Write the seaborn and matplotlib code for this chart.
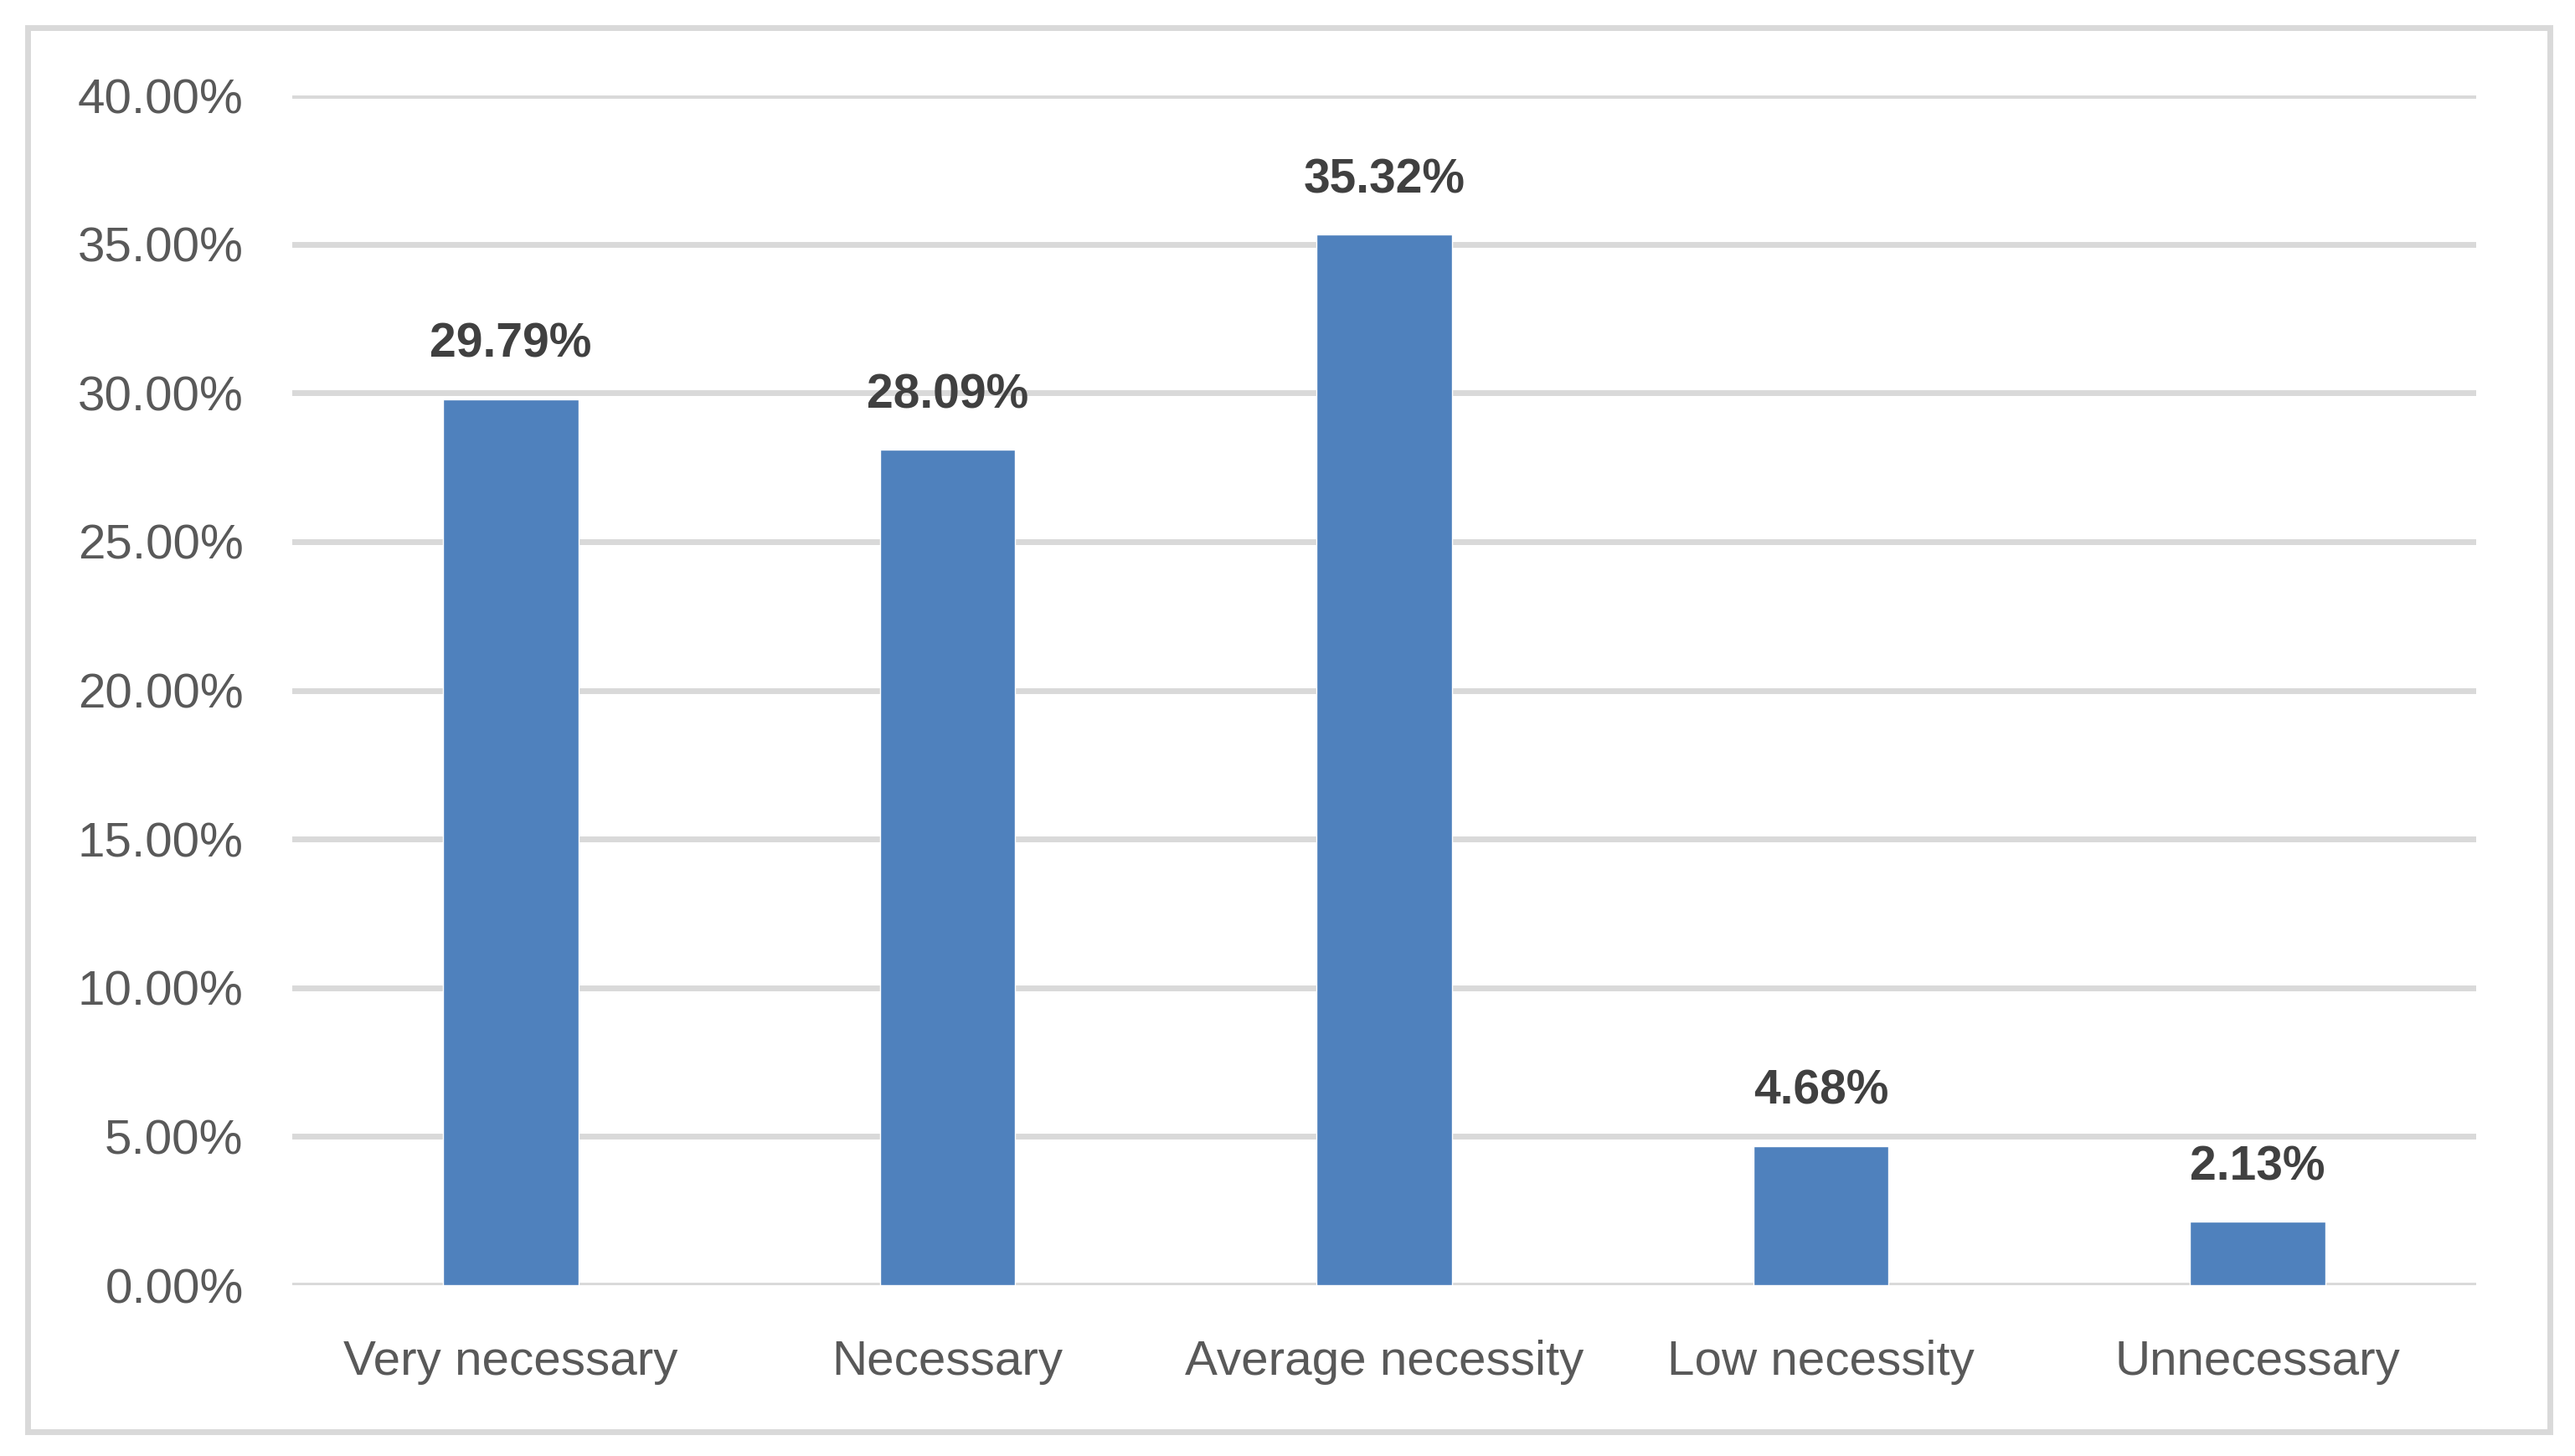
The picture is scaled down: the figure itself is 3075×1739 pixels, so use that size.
import matplotlib
matplotlib.use("Agg")
import matplotlib.pyplot as plt
import seaborn as sns
import pandas as pd
from matplotlib.patches import Rectangle
from matplotlib.ticker import FuncFormatter

categories = ["Very necessary", "Necessary", "Average necessity", "Low necessity", "Unnecessary"]
values = [29.79, 28.09, 35.32, 4.68, 2.13]
yticks = [0, 5, 10, 15, 20, 25, 30, 35, 40]

sns.set_theme(style="white")
plt.rcParams["font.family"] = ["Liberation Sans", "DejaVu Sans"]

df = pd.DataFrame({"category": categories, "value": values})

fig = plt.figure(figsize=(30.75, 17.39), dpi=100)
ax = fig.add_axes([0.1135, 0.1173, 0.8481, 0.8171])

# outer frame
fig.patches.append(Rectangle((33 / 3075, 1 - 1710 / 1739), (3045 - 33) / 3075, (1710 - 33) / 1739,
                             transform=fig.transFigure, fill=False, edgecolor="#d9d9d9",
                             linewidth=5, zorder=0))

ax.set_axisbelow(True)
for t in yticks:
    ax.axhline(t, color="#d9d9d9", linewidth=5, zorder=0)

sns.barplot(data=df, x="category", y="value", color="#4f81bd", saturation=1,
            width=0.31, ax=ax, zorder=2)

ax.set_ylim(0, 40)
ax.set_xlim(-0.5, 4.5)
ax.set_yticks(yticks)
ax.yaxis.set_major_formatter(FuncFormatter(lambda v, p: f"{v:.2f}%"))
ax.set_xlabel("")
ax.set_ylabel("")
for s in ax.spines.values():
    s.set_visible(False)
ax.tick_params(axis="y", length=0, pad=42, labelsize=42, labelcolor="#595959")
ax.tick_params(axis="x", length=0, pad=47, labelsize=42, labelcolor="#595959")
ax.grid(False)

for i, v in enumerate(values):
    ax.annotate(f"{v:.2f}%", (i, v), xytext=(0, 36), textcoords="offset points",
                ha="center", va="baseline", fontsize=41, fontweight="bold", color="#404040")

fig.savefig("out.png", dpi=100)
